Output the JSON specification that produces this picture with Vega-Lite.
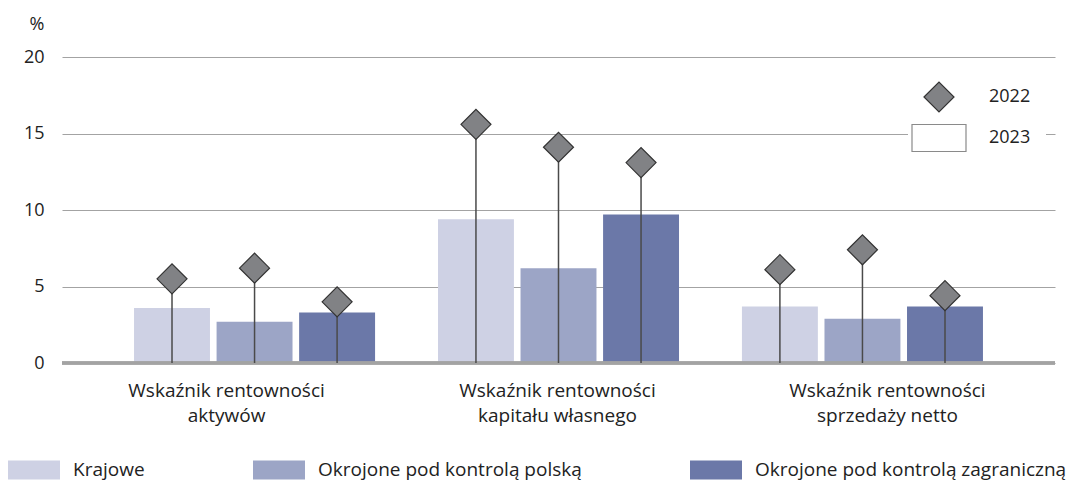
{
  "$schema": "https://vega.github.io/schema/vega-lite/v6.json",
  "width": 993,
  "height": 306,
  "autosize": {"type": "none"},
  "padding": {"left": 62, "top": 57, "right": 14, "bottom": 120},
  "background": "white",
  "config": {
    "font": "Open Sans",
    "view": {"stroke": null}
  },
  "data": {
    "values": [
      {"wskaznik": "Wskaźnik rentowności aktywów", "grupa": "Krajowe", "r2022": 5.5, "r2023": 3.6},
      {"wskaznik": "Wskaźnik rentowności aktywów", "grupa": "Okrojone pod kontrolą polską", "r2022": 6.2, "r2023": 2.7},
      {"wskaznik": "Wskaźnik rentowności aktywów", "grupa": "Okrojone pod kontrolą zagraniczną", "r2022": 4.0, "r2023": 3.3},
      {"wskaznik": "Wskaźnik rentowności kapitału własnego", "grupa": "Krajowe", "r2022": 15.6, "r2023": 9.4},
      {"wskaznik": "Wskaźnik rentowności kapitału własnego", "grupa": "Okrojone pod kontrolą polską", "r2022": 14.1, "r2023": 6.2},
      {"wskaznik": "Wskaźnik rentowności kapitału własnego", "grupa": "Okrojone pod kontrolą zagraniczną", "r2022": 13.1, "r2023": 9.7},
      {"wskaznik": "Wskaźnik rentowności sprzedaży netto", "grupa": "Krajowe", "r2022": 6.1, "r2023": 3.7},
      {"wskaznik": "Wskaźnik rentowności sprzedaży netto", "grupa": "Okrojone pod kontrolą polską", "r2022": 7.4, "r2023": 2.9},
      {"wskaznik": "Wskaźnik rentowności sprzedaży netto", "grupa": "Okrojone pod kontrolą zagraniczną", "r2022": 4.4, "r2023": 3.7}
    ]
  },
  "encoding": {
    "x": {
      "field": "wskaznik", "type": "nominal", "sort": null, "title": null,
      "scale": {"paddingInner": 0.207, "paddingOuter": 0.237},
      "axis": {"domain": false, "ticks": false, "labelAngle": 0, "labelPadding": 18, "labelBaseline": "top", "labelLineHeight": 25,
               "labelFontSize": 19, "labelColor": "#222", "labelLimit": 400,
               "labelOffset": {"condition": [
                 {"test": "datum.value === 'Wskaźnik rentowności aktywów'", "value": -28},
                 {"test": "datum.value === 'Wskaźnik rentowności sprzedaży netto'", "value": 25}
               ], "value": -1},
               "labelExpr": "[substring(datum.label,0,20), substring(datum.label,21)]"}
    },
    "xOffset": {
      "field": "grupa", "type": "nominal",
      "sort": ["Krajowe", "Okrojone pod kontrolą polską", "Okrojone pod kontrolą zagraniczną"],
      "scale": {"paddingInner": 0.08, "paddingOuter": 0}
    }
  },
  "layer": [
    {
      "mark": {"type": "bar"},
      "encoding": {
        "y": {
          "field": "r2023", "type": "quantitative",
          "scale": {"domain": [0, 20], "nice": false},
          "title": "%",
          "axis": {"values": [0, 5, 10, 15, 20], "domain": false, "ticks": false, "labelPadding": 18,
                   "labelFontSize": 18, "labelColor": "#222", "titleFontSize": 18, "titleFontWeight": "normal", "titleColor": "#222",
                   "grid": true, "gridColor": "#a3a3a3", "gridWidth": 1.2,
                   "titleAngle": 0, "titleAlign": "right", "titleX": -18, "titleY": -28, "titleBaseline": "alphabetic"}
        },
        "color": {
          "field": "grupa", "type": "nominal",
          "sort": ["Krajowe", "Okrojone pod kontrolą polską", "Okrojone pod kontrolą zagraniczną"],
          "scale": {"range": ["#ced1e4", "#9ca5c6", "#6b78a8"]},
          "legend": {"orient": "none", "legendX": -54, "legendY": 387, "direction": "horizontal", "title": null,
                     "symbolType": "M-1,-0.365H1V0.365H-1Z", "symbolSize": 2704, "symbolStrokeWidth": 0,
                     "symbolOpacity": 1, "labelOffset": 13, "columnPadding": 108, "labelFontSize": 19, "labelColor": "#222",
                     "labelLimit": 500}
        }
      }
    },
    {
      "mark": {"type": "rule", "color": "#a3a3a3", "strokeWidth": 2.4},
      "encoding": {"y": {"datum": 0, "type": "quantitative"}, "x": null, "xOffset": null}
    },
    {
      "mark": {"type": "rule", "color": "#4a4a4a", "strokeWidth": 1.5},
      "encoding": {
        "y": {"field": "r2022", "type": "quantitative"},
        "y2": {"datum": 0}
      }
    },
    {
      "mark": {"type": "point", "filled": true, "size": 900, "opacity": 1, "strokeWidth": 1.2},
      "encoding": {
        "y": {"field": "r2022", "type": "quantitative"},
        "shape": {"datum": "2022", "type": "nominal",
                  "scale": {"domain": ["2022", "2023"], "range": ["diamond", "M-1.8,-0.9H1.8V0.9H-1.8Z"]},
                  "legend": {"orient": "none", "legendX": 846, "legendY": 9, "title": null, "fillColor": "white",
                             "padding": 15, "rowPadding": 7, "labelOffset": 34, "symbolSize": 900, "symbolStrokeWidth": 1.2,
                             "labelFontSize": 18, "labelColor": "#222"}},
        "fill": {"datum": "2022", "type": "nominal",
                 "scale": {"domain": ["2022", "2023"], "range": ["#818285", "white"]},
                 "legend": {"orient": "none", "legendX": 846, "legendY": 9, "title": null, "fillColor": "white",
                            "padding": 15, "rowPadding": 7, "labelOffset": 34, "symbolSize": 900, "symbolStrokeWidth": 1.2,
                            "labelFontSize": 18, "labelColor": "#222"}},
        "stroke": {"datum": "2022", "type": "nominal",
                   "scale": {"domain": ["2022", "2023"], "range": ["#333333", "#8a8a8a"]},
                   "legend": {"orient": "none", "legendX": 846, "legendY": 9, "title": null, "fillColor": "white",
                              "padding": 15, "rowPadding": 7, "labelOffset": 34, "symbolSize": 900, "symbolStrokeWidth": 1.2,
                              "labelFontSize": 18, "labelColor": "#222"}}
      }
    }
  ]
}
